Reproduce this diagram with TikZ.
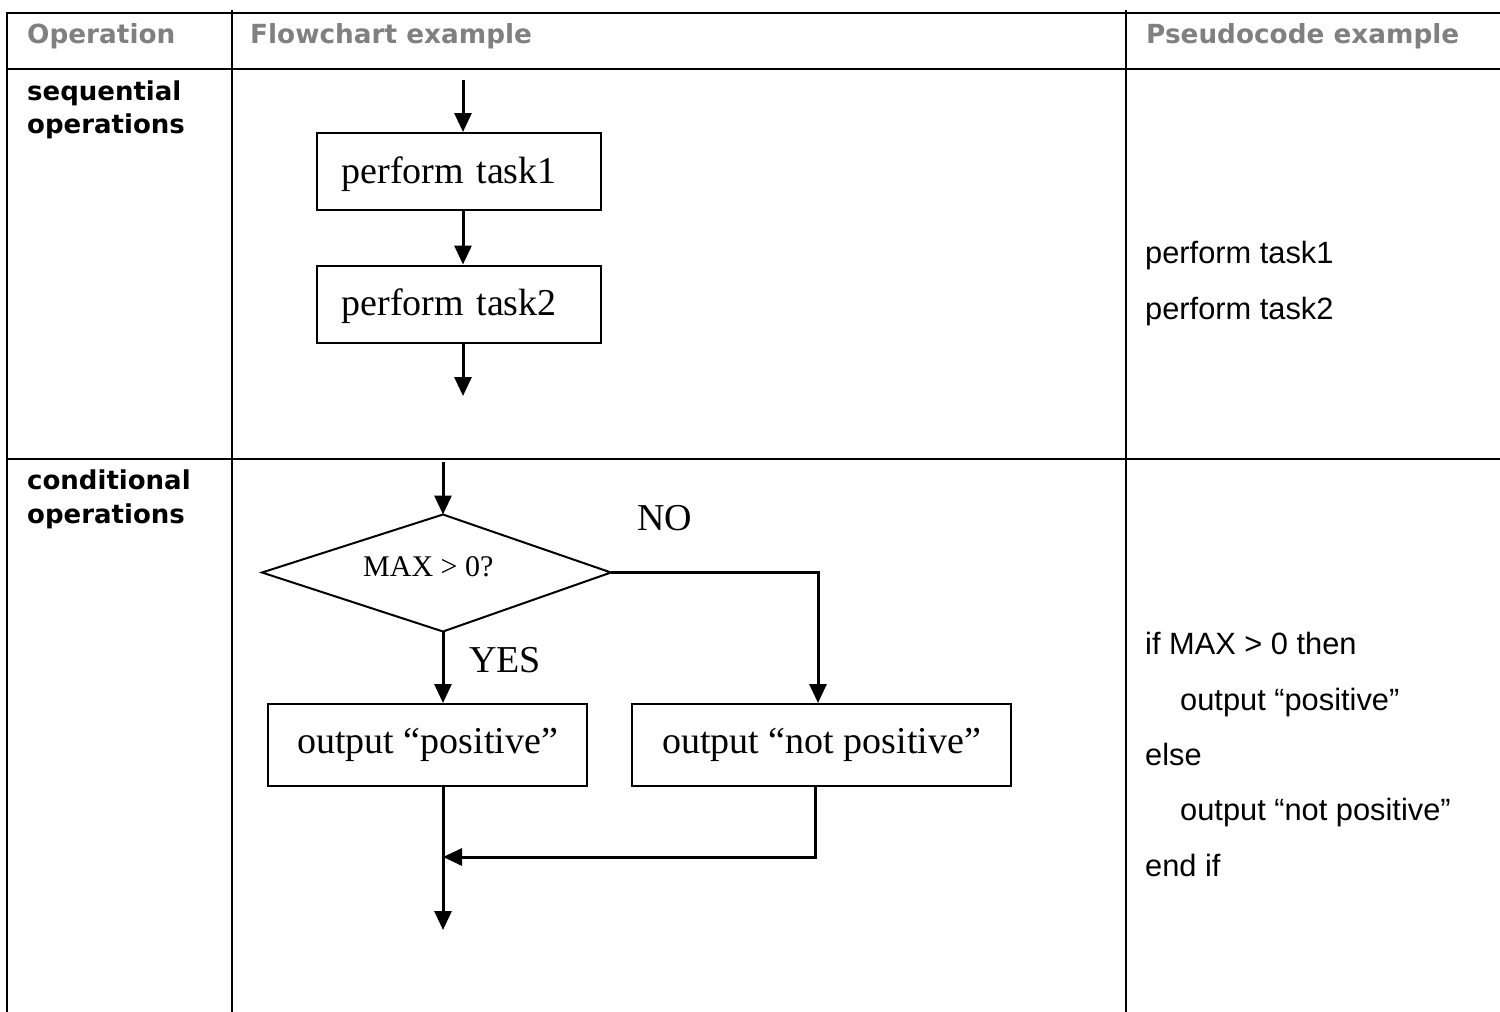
\documentclass[tikz,border=0pt]{standalone}
\usepackage{fontspec}
\setmainfont{Liberation Serif}
\newfontfamily\arialf{Liberation Sans}
\newfontfamily\hdrf{DejaVu Sans}
\usetikzlibrary{arrows.meta}
\definecolor{hdrgray}{RGB}{128,128,128}
\begin{document}
\begin{tikzpicture}[x=1pt,y=-1pt,
  tbl/.style={line width=2pt, black},
  fcbox/.style={draw, line width=2pt, inner ysep=0pt, font=\fontsize{38}{40}\selectfont},
  arr/.style={line width=3pt, -{Triangle[length=19pt,width=17pt]}},
  hdr/.style={anchor=base west, inner sep=0pt, text=hdrgray, font=\hdrf\bfseries\fontsize{26.3}{30}\selectfont},
  oplbl/.style={anchor=base west, inner sep=0pt, font=\hdrf\bfseries\fontsize{26}{30}\selectfont},
  pcode/.style={anchor=base west, inner sep=0pt, font=\arialf\fontsize{30.8}{34}\selectfont},
  fclbl/.style={anchor=base west, inner sep=0pt, font=\fontsize{38}{40}\selectfont},
  dlbl/.style={anchor=base west, inner sep=0pt, font=\fontsize{30}{32}\selectfont},
  dshape/.style={line width=2pt, line join=miter}
]
\useasboundingbox (0,0) rectangle (1500,1012);

% table grid
\draw[tbl] (7,13) -- (1500,13);
\draw[tbl] (7,69) -- (1500,69);
\draw[tbl] (7,459) -- (1500,459);
\draw[tbl] (7,12) -- (7,1012);
\draw[tbl] (232,10) -- (232,1012);
\draw[tbl] (1126,10) -- (1126,1012);

% headers
\node[hdr] (h1) at (27,43) {Operation};
\node[hdr] (h2) at (250,43) {Flowchart example};
\node[hdr] (h3) at (1146,43) {Pseudocode example};

% operation labels
\node[oplbl] (seq1) at (27,100) {sequential};
\node[oplbl] (seq2) at (27,133) {operations};
\node[oplbl] (con1) at (27,489) {conditional};
\node[oplbl] (con2) at (27,523) {operations};

% sequential flowchart
\node[fcbox, minimum height=77pt, text width=234pt, inner xsep=25pt, align=left, text height=26pt, text depth=3pt] (box1) at (458.5,171.5) {perform task1};
\node[fcbox, minimum height=77pt, text width=234pt, inner xsep=25pt, align=left, text height=26pt, text depth=3pt] (box2) at (458.5,304) {perform task2};
\coordinate (s0) at (463,80);
\coordinate (s3) at (463,396);
\draw[arr] (s0) -- (s0 |- box1.north);
\draw[arr] (s0 |- box1.south) -- (s0 |- box2.north);
\draw[arr] (s0 |- box2.south) -- (s3);

% conditional flowchart
\coordinate (c0) at (443,462);
\coordinate (dtop) at (443,514.5);
\coordinate (dleft) at (262,572.5);
\coordinate (dright) at (611,572.5);
\coordinate (dbot) at (443,631.5);
\draw[dshape] (dtop) -- (dright) -- (dbot) -- (dleft) -- cycle;
\node[dlbl] (cond) at (363,576.7) {MAX > 0?};
\node[fclbl] (no) at (637,530) {NO};
\node[fclbl] (yes) at (469,672) {YES};

\node[fcbox, minimum width=319pt, minimum height=82pt] (box3) at (427.5,745) {output “positive”};
\node[fcbox, minimum width=379pt, minimum height=82pt] (box4) at (821.5,745) {output “not positive”};

\coordinate (nright) at (818,572.5);
\coordinate (j4) at (815,857);
\coordinate (cend) at (443,930);

\draw[arr] (c0) -- (dtop);
\draw[arr] (dbot) -- (dbot |- box3.north);
\draw[arr, line join=miter] (dright) -- (nright) -- (nright |- box4.north);
\draw[arr] (dbot |- box3.south) -- (cend);
\draw[arr, line join=miter] (j4 |- box4.south) -- (j4) -- (j4 -| cend);

% pseudocode
\node[pcode] (p1) at (1145,263) {perform task1};
\node[pcode] (p2) at (1145,319) {perform task2};
\node[pcode] (q1) at (1145,654) {if MAX > 0 then};
\node[pcode] (q2) at (1180,710) {output “positive”};
\node[pcode] (q3) at (1145,765) {else};
\node[pcode] (q4) at (1180,820) {output “not positive”};
\node[pcode] (q5) at (1145,876) {end if};
\end{tikzpicture}
\end{document}
